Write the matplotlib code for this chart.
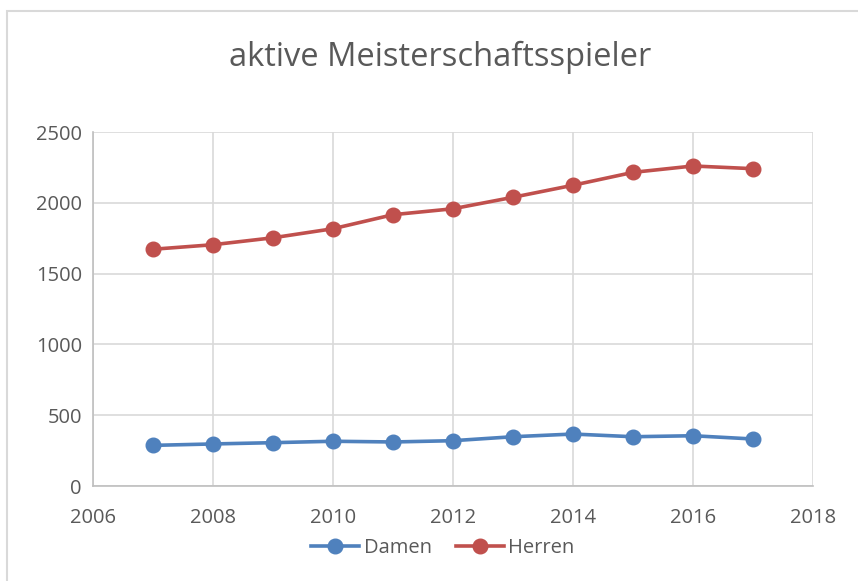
import matplotlib.pyplot as plt
from matplotlib.patches import Rectangle

plt.rcParams["font.family"] = ["Open Sans", "DejaVu Sans"]

years = [2007, 2008, 2009, 2010, 2011, 2012, 2013, 2014, 2015, 2016, 2017]
damen = [287, 297, 306, 316, 311, 320, 348, 367, 348, 355, 332]
herren = [1672, 1704, 1753, 1817, 1916, 1958, 2039, 2124, 2215, 2260, 2241]

TEXT = "#595959"
GRID = "#D9D9D9"


def main():
    fig = plt.figure(figsize=(8.58, 5.81), dpi=100)
    ax = fig.add_axes([0.1084, 0.1635, 0.8392, 0.6093])

    # chart border (only top/left visible in the original crop)
    fig.patches.append(Rectangle((7 / 858, -0.05), 1.0, 1 - 11 / 581 + 0.05,
                                 transform=fig.transFigure, fill=False,
                                 edgecolor="#D9D9D9", linewidth=1.5))

    ax.plot(years, damen, color="#4F81BD", lw=2.6, marker="o", ms=10.5,
            label="Damen")
    ax.plot(years, herren, color="#C0504D", lw=2.6, marker="o", ms=10.5,
            label="Herren")

    ax.set_xlim(2006, 2018)
    ax.set_ylim(0, 2500)
    ax.set_xticks(range(2006, 2019, 2))
    ax.set_yticks(range(0, 2501, 500))
    ax.grid(True, color=GRID, lw=1.2)
    ax.set_axisbelow(True)
    for side in ["top", "right"]:
        ax.spines[side].set_visible(False)
    for side in ["left", "bottom"]:
        ax.spines[side].set_color("#BFBFBF")
        ax.spines[side].set_linewidth(1.2)
    ax.tick_params(length=0, labelsize=14.5, labelcolor=TEXT)
    ax.tick_params(axis="y", pad=8)
    ax.tick_params(axis="x", pad=16)

    fig.text(0.513, 0.902, "aktive Meisterschaftsspieler", ha="center",
             va="center", fontsize=23.5, color=TEXT)

    leg = fig.legend(loc="center", bbox_to_anchor=(0.516, 0.056), ncol=2,
                     frameon=False, fontsize=14.5, handlelength=2.4,
                     columnspacing=1.2, handletextpad=0.2)
    for t in leg.get_texts():
        t.set_color(TEXT)

    fig.savefig("out.png", dpi=100)


if __name__ == "__main__":
    main()
